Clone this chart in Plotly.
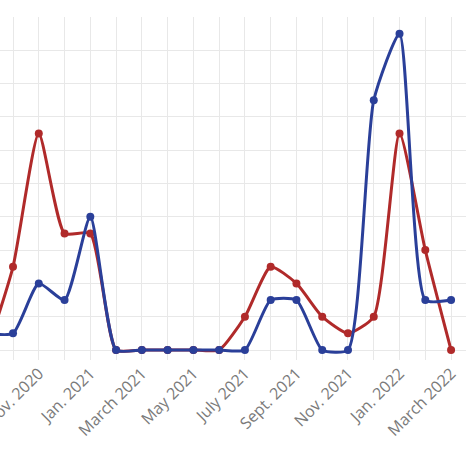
import plotly.graph_objects as go

months = ['Sept. 2020', 'Oct. 2020', 'Nov. 2020', 'Dec. 2020',
          'Jan. 2021', 'Feb. 2021', 'March 2021', 'April 2021', 'May 2021',
          'June 2021', 'July 2021', 'Aug. 2021', 'Sept. 2021', 'Oct. 2021',
          'Nov. 2021', 'Dec. 2021', 'Jan. 2022', 'Feb. 2022', 'March 2022']

red_vals = [0, 2.5, 6.5, 3.5, 3.5, 0, 0, 0, 0, 0, 1, 2.5, 2, 1, 0.5, 1, 6.5, 3, 0]
blue_vals = [0.5, 0.5, 2, 1.5, 4, 0, 0, 0, 0, 0, 0, 1.5, 1.5, 0, 0, 7.5, 9.5, 1.5, 1.5]

# every other month gets a label
tick_labels = [m if i % 2 == 0 else '' for i, m in enumerate(months)]

fig = go.Figure()
fig.add_trace(go.Scatter(x=months, y=red_vals, mode='lines+markers',
                         line=dict(color='#b02a2a', width=3, shape='spline', smoothing=0.55),
                         marker=dict(size=8, color='#b02a2a')))
fig.add_trace(go.Scatter(x=months, y=blue_vals, mode='lines+markers',
                         line=dict(color='#2a3f99', width=3, shape='spline', smoothing=0.55),
                         marker=dict(size=8, color='#2a3f99')))

fig.update_layout(
    width=466, height=466,
    margin=dict(l=0, r=0, t=17, b=106),
    paper_bgcolor='white', plot_bgcolor='white',
    showlegend=False,
    font=dict(family='Open Sans', size=16, color='#7a7a7a'),
    xaxis=dict(type='category', range=[0.495, 18.58], automargin=False,
               tickmode='array', tickvals=months, ticktext=tick_labels,
               tickangle=-45, showgrid=True, gridcolor='#e8e8e8',
               zeroline=False, showline=False),
    yaxis=dict(range=[-0.3, 10], dtick=1, showgrid=True, gridcolor='#e8e8e8',
               zeroline=False, showticklabels=False, automargin=False),
)

# page has a default body margin; drop it so the figure sits at the corner
fig.write_html("out.html", config={'displayModeBar': False},
               post_script="document.body.style.margin='0';")
